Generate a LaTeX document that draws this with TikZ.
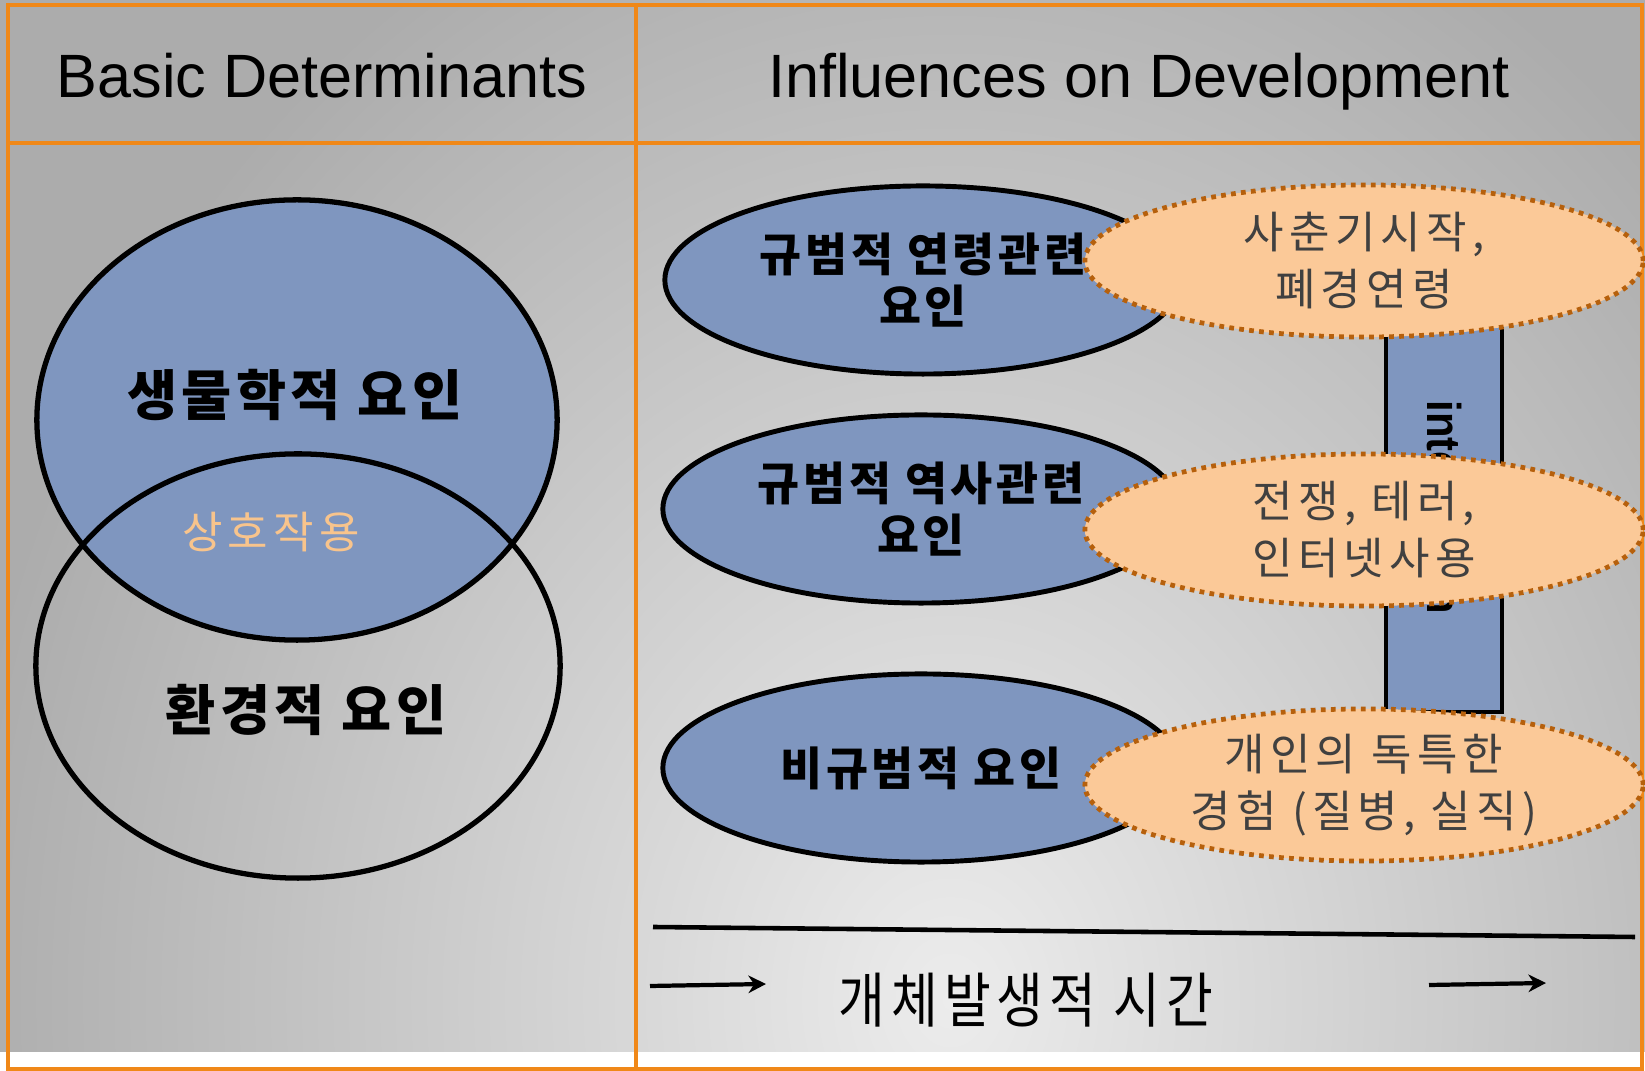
\documentclass[tikz,border=0pt]{standalone}
\usepackage{fontspec}
\setmainfont{Liberation Sans}
\newfontfamily\kr{Noto Sans CJK KR}
\newfontfamily\krsp[LetterSpace=12]{Noto Sans CJK KR}
\newfontfamily\krbold[LetterSpace=8]{Noto Sans CJK KR}
\usepackage{xcolor}
\usepackage{graphicx}
\usepackage{tikz}
\usetikzlibrary{shapes.geometric, arrows.meta}

\definecolor{edgeorange}{RGB}{240,136,24}
\definecolor{slate}{RGB}{127,150,191}
\definecolor{peach}{RGB}{251,201,152}
\definecolor{rust}{RGB}{182,96,12}
\definecolor{ink}{RGB}{64,64,64}
\definecolor{apricot}{RGB}{248,196,140}

\begin{document}
\begin{tikzpicture}[x=0.01cm, y=-0.01cm,
    framerule/.style={edgeorange, line width=1.4pt},
    blob/.style={ellipse, draw=black, line width=1.4pt, fill=slate, inner sep=0pt,
      minimum width=5.16cm, minimum height=1.88cm, align=center,
      font=\krbold\bfseries\fontsize{13}{14.8}\selectfont},
    note/.style={ellipse, draw=rust, line width=1.35pt, dash pattern=on 1.35pt off 1.5pt,
      fill=peach, inner sep=0pt, minimum width=5.58cm, minimum height=1.52cm,
      align=center, text=ink, font=\krsp\fontsize{12.5}{16.2}\selectfont},
    timearrow/.style={line width=1.2pt, -{Stealth[length=5pt, width=5pt]}}]
      \useasboundingbox (0,0) rectangle (1645,1071);

      % background
      \fill [white] (0,0) rectangle (1645,1071);
      \begin{scope}
        \clip (0,0) rectangle (1645,1052);
        \shade [inner color={rgb,255:red,236;green,236;blue,236},
                outer color={rgb,255:red,172;green,172;blue,172}]
          (-50,-200) rectangle (1950,2200);
      \end{scope}

      % frame
      \draw [framerule] (8,5) rectangle (1642,1069);
      \draw [framerule] (8,143) -- (1642,143);
      \draw [framerule] (636,5) -- (636,1069);

      \node [anchor=base, font=\fontsize{17.4}{20}\selectfont] (basic) at (322,98) {Basic Determinants};
      \node [anchor=base, font=\fontsize{17.4}{20}\selectfont] (influences) at (1139,98) {Influences on Development};

      % left panel
      \node [ellipse, draw=black, line width=1.5pt, fill=slate, inner sep=0pt,
             minimum width=5.2cm, minimum height=4.4cm] (bio) at (297,420) {};
      \node [ellipse, draw=black, line width=1.5pt, inner sep=0pt,
             minimum width=5.24cm, minimum height=4.24cm] (env) at (298,666) {};

      \node [font=\krbold\bfseries\fontsize{15.5}{18}\selectfont] (biotext) at (295,395) {생물학적 요인};
      \node [text=apricot, font=\krsp\fontsize{12.5}{15}\selectfont] (inter) at (271,532) {상호작용};
      \node [font=\krbold\bfseries\fontsize{15.5}{18}\selectfont] (envtext) at (306,710) {환경적 요인};

      % right panel
      \node [draw=black, line width=1.3pt, fill=slate, inner sep=0pt,
             minimum width=1.16cm, minimum height=4.22cm] (span) at (1444,501) {};
      \node [rotate=-90, anchor=base west, inner sep=0pt,
             font=\bfseries\fontsize{13.5}{16}\selectfont] (spantext) at (1427,400) {\scalebox{0.88}[1]{interaction}};

      \node [blob] (age) at (923,280) {규범적 연령관련\\요인};
      \node [blob] (history) at (921,509) {규범적 역사관련\\요인};
      \node [blob] (nonnorm) at (921,768) {비규범적 요인};

      \node [note] (puberty) at (1364,261) {사춘기시작,\\폐경연령};
      \node [note] (war) at (1364,530) {전쟁, 테러,\\인터넷사용};
      \node [note] (unique) at (1364,785) {개인의 독특한\\경험 (질병, 실직)};

      % time axis
      \coordinate (t0) at (653,927);
      \coordinate (t1) at (1635,937);
      \draw [line width=1.3pt] (t0) -- (t1);

      \coordinate (a0) at (650,986);
      \coordinate (a1) at (766,984);
      \coordinate (b0) at (1429,985);
      \coordinate (b1) at (1546,983);
      \draw [timearrow] (a0) -- (a1);
      \draw [timearrow] (b0) -- (b1);

      \node [font=\krsp\fontsize{17}{19}\selectfont] (ontime) at (1026,1000) {\scalebox{0.85}[1]{개체발생적 시간}};
    \end{tikzpicture}
\end{document}
